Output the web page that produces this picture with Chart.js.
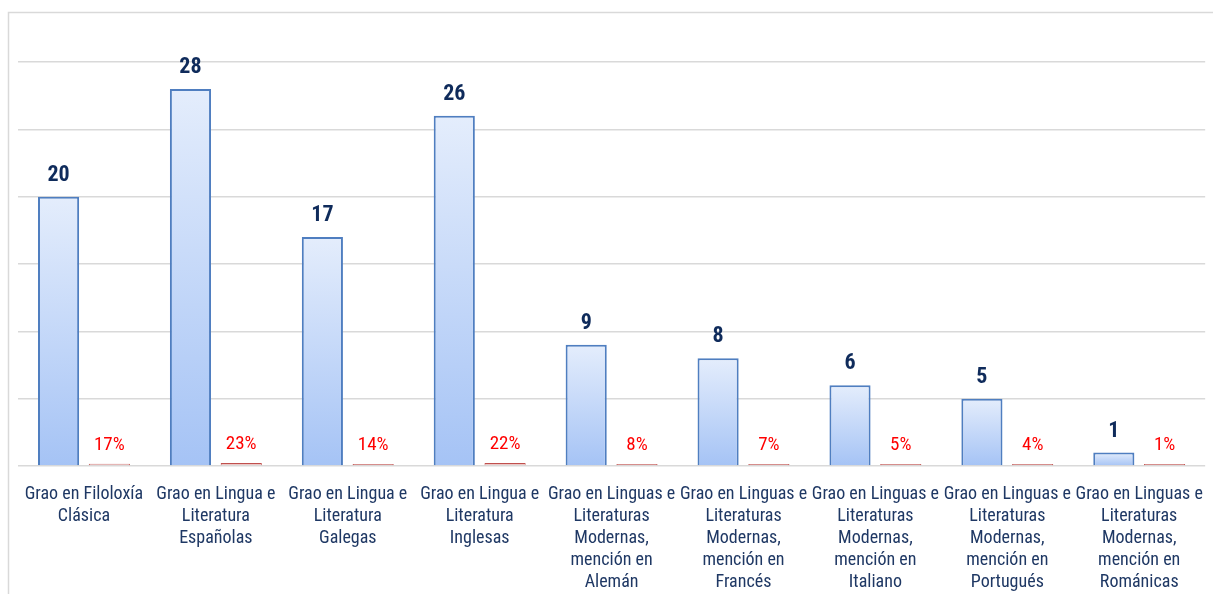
<!DOCTYPE html>
<html>
<head>
<meta charset="utf-8">
<script src="https://cdn.jsdelivr.net/npm/chart.js@4"></script>
<style>
  html, body { margin: 0; padding: 0; background: #fff; }
  canvas { display: block; }
</style>
</head>
<body>
<canvas id="chart" width="1213" height="594"></canvas>
<script>
// data
const categories = [
    ['Grao en Filoloxía', 'Clásica'],
    ['Grao en Lingua e', 'Literatura', 'Españolas'],
    ['Grao en Lingua e', 'Literatura', 'Galegas'],
    ['Grao en Lingua e', 'Literatura', 'Inglesas'],
    ['Grao en Linguas e', 'Literaturas', 'Modernas,', 'mención en', 'Alemán'],
    ['Grao en Linguas e', 'Literaturas', 'Modernas,', 'mención en', 'Francés'],
    ['Grao en Linguas e', 'Literaturas', 'Modernas,', 'mención en', 'Italiano'],
    ['Grao en Linguas e', 'Literaturas', 'Modernas,', 'mención en', 'Portugués'],
    ['Grao en Linguas e', 'Literaturas', 'Modernas,', 'mención en', 'Románicas']
];
const counts = [20, 28, 17, 26, 9, 8, 6, 5, 1];
const percents = [17, 23, 14, 22, 8, 7, 5, 4, 1];
const yTicks = [0, 5, 10, 15, 20, 25, 30];

const FONT = "'Liberation Sans Narrow', 'Roboto Condensed', 'DejaVu Sans Condensed', Roboto, sans-serif";

document.addEventListener('DOMContentLoaded', () => {
    const canvas = document.getElementById('chart');
    const ctx = canvas.getContext('2d');

    // per-bar vertical gradient, light on top
    function blueFill(context) {
        const chart = context.chart;
        const y = chart.scales.y;
        if (!y || !chart.chartArea) return '#c6d9f7';
        const top = y.getPixelForValue(context.raw);
        const base = y.getPixelForValue(0);
        if (!isFinite(top) || !isFinite(base) || top === base) return '#c6d9f7';
        const g = chart.ctx.createLinearGradient(0, top, 0, base);
        g.addColorStop(0, '#e4edfc');
        g.addColorStop(1, '#a5c3f5');
        return g;
    }

    const framePlugin = {
        id: 'frame',
        beforeDraw(chart) {
            const c = chart.ctx;
            c.save();
            c.strokeStyle = '#d9d9d9';
            c.lineWidth = 1.5;
            c.beginPath();
            c.moveTo(8.5, chart.height);
            c.lineTo(8.5, 12.5);
            c.lineTo(chart.width, 12.5);
            c.stroke();
            c.restore();
        }
    };

    const valueLabels = {
        id: 'valueLabels',
        afterDatasetsDraw(chart) {
            const c = chart.ctx;
            c.save();
            c.textAlign = 'center';
            c.textBaseline = 'alphabetic';
            chart.getDatasetMeta(0).data.forEach((bar, i) => {
                c.fillStyle = '#0f2b5b';
                c.font = 'bold 22px ' + FONT;
                c.fillText(String(counts[i]), bar.x, bar.y - 16);
            });
            chart.getDatasetMeta(1).data.forEach((bar, i) => {
                c.fillStyle = '#ff0000';
                c.font = '19px ' + FONT;
                c.fillText(percents[i] + '%', bar.x, bar.y - 14);
            });
            c.restore();
        }
    };

    new Chart(ctx, {
        type: 'bar',
        data: {
            labels: categories,
            datasets: [{
                label: 'Alumnado',
                data: counts,
                backgroundColor: blueFill,
                borderColor: '#4f7ec0',
                borderWidth: 2,
                borderSkipped: 'bottom',
                categoryPercentage: 0.77,
                barPercentage: 0.81
            }, {
                label: 'Porcentaxe',
                data: percents.map(p => p / 100),
                backgroundColor: '#ecc6c5',
                borderColor: '#c0504d',
                borderWidth: 1,
                borderSkipped: 'bottom',
                minBarLength: 2,
                categoryPercentage: 0.77,
                barPercentage: 0.81
            }]
        },
        options: {
            responsive: false,
            animation: false,
            layout: { padding: { left: 18, right: 3, top: 62, bottom: 0 } },
            plugins: {
                legend: { display: false },
                tooltip: { enabled: false }
            },
            scales: {
                x: {
                    grid: { display: false },
                    border: { display: false },
                    ticks: {
                        color: '#1f3864',
                        font: { family: FONT, size: 18, lineHeight: 1.22 },
                        padding: 10,
                        maxRotation: 0,
                        minRotation: 0,
                        autoSkip: false
                    },
                    afterFit: s => { s.height = 128; }
                },
                y: {
                    min: 0,
                    max: 30,
                    afterBuildTicks: s => { s.ticks = yTicks.map(v => ({ value: v })); },
                    grid: { color: '#d9d9d9', lineWidth: 1.5, drawTicks: false },
                    border: { display: false },
                    ticks: { display: false },
                    afterFit: s => { s.width = 0; }
                }
            }
        },
        plugins: [framePlugin, valueLabels]
    });
});
</script>
</body>
</html>
